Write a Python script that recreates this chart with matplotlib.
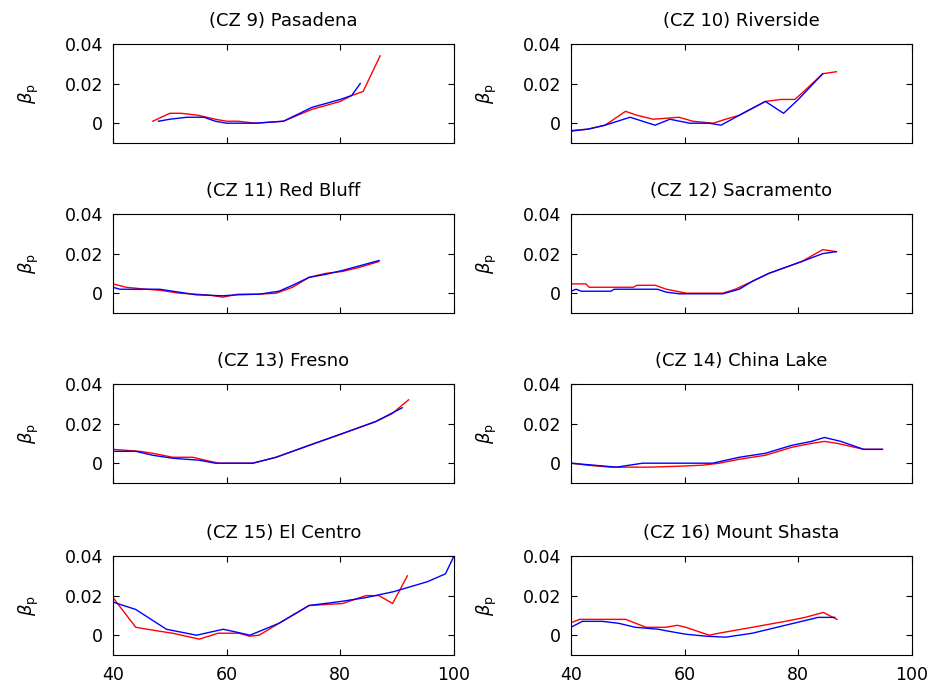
import matplotlib
matplotlib.use("Agg")
import matplotlib.pyplot as plt

plt.rcParams["font.family"] = ["DejaVu Sans"]

titles = [
    "(CZ 9) Pasadena", "(CZ 10) Riverside",
    "(CZ 11) Red Bluff", "(CZ 12) Sacramento",
    "(CZ 13) Fresno", "(CZ 14) China Lake",
    "(CZ 15) El Centro", "(CZ 16) Mount Shasta",
]

# red series (x, y) per panel
red_x = [
    [47, 50, 52, 55, 58, 60, 62, 65, 70, 75, 80, 82, 84, 87],
    [40, 43, 46, 49.6, 51.6, 54.5, 59, 61.4, 65, 67.2, 69.6, 74.2, 77, 79.4, 81.7, 84.3, 86.7],
    [40, 42.3, 45.8, 48.2, 51.7, 54.6, 57, 59.3, 62, 65.7, 68.7, 71.6, 74.5, 77.4, 80.4, 83.3, 86.8],
    [40, 42.6, 43.2, 51, 51.6, 54.8, 56.8, 60.3, 66.7, 68.9, 71.9, 74.8, 77.7, 80.6, 84.3, 86.7],
    [40, 44.7, 47, 50.5, 54, 57, 58.7, 64.6, 68.7, 74.5, 80.4, 86.2, 89.1, 92],
    [40, 42.9, 47, 50.4, 53.9, 59.1, 63.2, 66.1, 69.6, 74.2, 78.8, 82.3, 84.6, 86.9, 91.5, 94.8],
    [40, 44, 48.2, 50.5, 55.2, 58.5, 62.2, 64, 65.7, 69.2, 74.5, 80.4, 84.5, 86.8, 89.2, 91.8],
    [40, 41.5, 45.5, 49.6, 53.2, 56.7, 58.7, 60.2, 64.3, 66, 71.9, 77.7, 81.2, 84.4, 86.8],
]
red_y = [
    [0.001, 0.005, 0.005, 0.004, 0.002, 0.001, 0.001, 0.0, 0.001, 0.007, 0.011, 0.014, 0.016, 0.034],
    [-0.0037, -0.003, -0.001, 0.006, 0.004, 0.002, 0.003, 0.001, 0.0, 0.002, 0.004, 0.011, 0.012, 0.012, 0.018, 0.025, 0.026],
    [0.0047, 0.003, 0.002, 0.0015, 0.0, -0.0005, -0.001, -0.002, -0.0005, -0.0005, 0.0, 0.003, 0.008, 0.010, 0.011, 0.013, 0.016],
    [0.0047, 0.0047, 0.003, 0.003, 0.004, 0.004, 0.002, 0.0, 0.0, 0.002, 0.006, 0.010, 0.013, 0.016, 0.022, 0.021],
    [0.007, 0.006, 0.005, 0.003, 0.003, 0.001, 0.0, 0.0, 0.003, 0.009, 0.015, 0.021, 0.025, 0.032],
    [0.0, -0.001, -0.002, -0.002, -0.002, -0.0015, -0.001, 0.0, 0.002, 0.004, 0.008, 0.010, 0.011, 0.010, 0.007, 0.007],
    [0.019, 0.004, 0.002, 0.001, -0.002, 0.001, 0.001, -0.0005, 0.0, 0.006, 0.015, 0.016, 0.020, 0.020, 0.016, 0.030],
    [0.0063, 0.008, 0.008, 0.008, 0.004, 0.004, 0.005, 0.004, 0.0, 0.001, 0.004, 0.007, 0.009, 0.0115, 0.008],
]

# blue series (x, y) per panel
blue_x = [
    [48, 50, 53, 56, 58, 60, 65, 70, 75, 80, 82, 83.5],
    [40, 43, 46, 50.4, 54.8, 57.4, 60.9, 64.3, 66.4, 69.6, 74.2, 77.4, 80, 84.3],
    [40, 41.2, 48.2, 51.7, 54.6, 59.3, 62, 65.7, 69.2, 71.6, 74.5, 77.4, 80.4, 86.8],
    [40, 40.9, 41.8, 47, 47.6, 55.2, 56.8, 59.1, 66.7, 69.6, 71.9, 74.8, 80.6, 84.3, 86.7],
    [40, 44, 47, 50.5, 55.2, 58, 64.6, 68.7, 74.5, 80.4, 86.2, 90.9],
    [40, 44, 48, 52.6, 62, 64.9, 69.6, 74.2, 78.8, 82.3, 84.6, 87.5, 91.5, 94.8],
    [40, 44, 49.4, 54.7, 59.4, 61, 64.1, 69.2, 74.5, 80, 84.5, 89.4, 95.3, 98.5, 100],
    [40, 42, 45.5, 48.4, 51.3, 55.4, 57.2, 60.2, 63.7, 67.2, 71.9, 77.7, 80.6, 83.5, 86.4],
]
blue_y = [
    [0.001, 0.002, 0.003, 0.003, 0.001, 0.0, 0.0, 0.001, 0.008, 0.012, 0.014, 0.020],
    [-0.004, -0.003, -0.001, 0.003, -0.001, 0.002, 0.0, 0.0, -0.001, 0.004, 0.011, 0.005, 0.012, 0.025],
    [0.003, 0.002, 0.002, 0.0005, -0.0008, -0.0013, -0.0008, -0.0005, 0.001, 0.004, 0.008, 0.0095, 0.0115, 0.0165],
    [0.001, 0.002, 0.001, 0.001, 0.002, 0.002, 0.0005, -0.0003, -0.0003, 0.002, 0.006, 0.010, 0.016, 0.020, 0.021],
    [0.006, 0.006, 0.004, 0.0025, 0.0015, 0.0, 0.0, 0.003, 0.009, 0.015, 0.021, 0.028],
    [0.0, -0.001, -0.002, 0.0, 0.0, 0.0, 0.003, 0.005, 0.009, 0.011, 0.013, 0.011, 0.007, 0.007],
    [0.0167, 0.013, 0.003, 0.0, 0.003, 0.002, 0.0, 0.006, 0.015, 0.017, 0.019, 0.022, 0.027, 0.031, 0.040],
    [0.004, 0.007, 0.007, 0.006, 0.004, 0.003, 0.002, 0.0005, -0.0005, -0.001, 0.001, 0.005, 0.007, 0.009, 0.009],
]

fig = plt.figure(figsize=(9.39, 6.85), dpi=100)

W, H = 939, 685
col_left = [113, 571]
ax_w = 341
row_top = [44, 214, 384, 556]
ax_h = 99

for i in range(8):
    r, c = divmod(i, 2)
    ax = fig.add_axes([col_left[c] / W, 1 - (row_top[r] + ax_h) / H, ax_w / W, ax_h / H])
    ax.plot(red_x[i], red_y[i], color="red", lw=1.0)
    ax.plot(blue_x[i], blue_y[i], color="blue", lw=1.0)
    ax.set_xlim(40, 100)
    ax.set_ylim(-0.01, 0.04)
    ax.set_xticks([40, 60, 80, 100])
    ax.set_yticks([0, 0.02, 0.04])
    ax.set_yticklabels(["0", "0.02", "0.04"])
    ax.tick_params(direction="in", top=True, right=True, labelsize=12.5, length=4,
                   width=0.8, pad=7, colors="black")
    ax.tick_params(axis="x", pad=8)
    if r < 3:
        ax.set_xticklabels([])
    ax.set_title(titles[i], fontsize=13, pad=13)
    ax.set_ylabel(r"$\beta_\mathrm{p}$", fontsize=13, labelpad=17)
    for s in ax.spines.values():
        s.set_linewidth(0.8)

fig.savefig("out.png", dpi=100, facecolor="white")
